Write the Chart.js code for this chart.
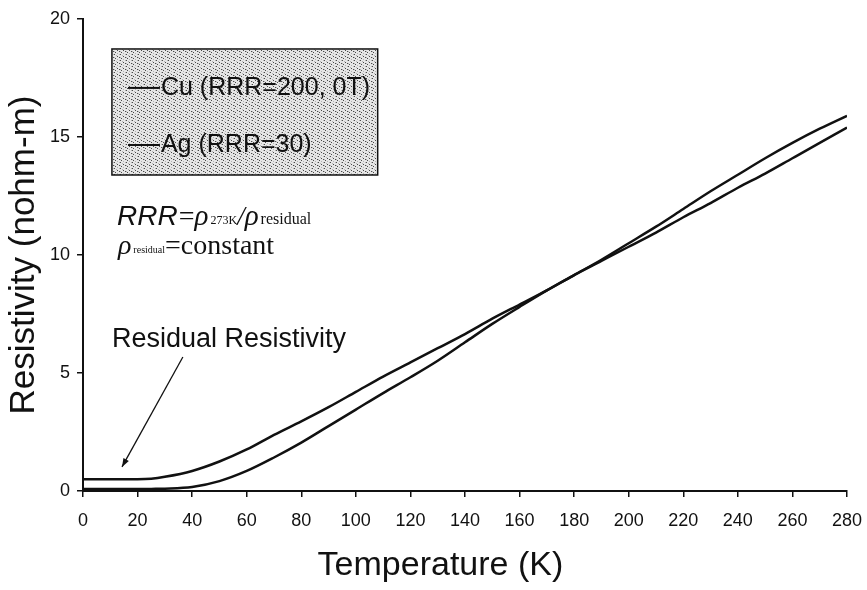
<!DOCTYPE html>
<html>
<head>
<meta charset="utf-8">
<script src="https://cdn.jsdelivr.net/npm/chart.js@4/dist/chart.umd.min.js"></script>
<style>
    html, body { margin: 0; padding: 0; background: #fff; }
    #wrap { width: 867px; height: 590px; }
</style>
</head>
<body>
<div id="wrap"><canvas id="rhoChart"></canvas></div>
<script>
// temperature (K)
const temps = [0, 10, 20, 25, 30, 40, 50, 60, 70, 80, 90, 100, 110, 120, 130, 140, 150,
    160, 170, 180, 190, 200, 210, 220, 230, 240, 250, 260, 270, 280];
// resistivity (nohm-m)
const cuRho = [0.08, 0.08, 0.08, 0.09, 0.1, 0.17, 0.42, 0.85, 1.42, 2.05, 2.75, 3.45, 4.15, 4.82, 5.52, 6.3, 7.08,
    7.8, 8.5, 9.15, 9.8, 10.5, 11.2, 11.95, 12.7, 13.4, 14.1, 14.75, 15.35, 15.9];
const agRho = [0.5, 0.5, 0.5, 0.52, 0.6, 0.85, 1.25, 1.76, 2.38, 2.95, 3.55, 4.2, 4.85, 5.45, 6.05, 6.65, 7.3,
    7.9, 8.5, 9.15, 9.75, 10.35, 10.95, 11.6, 12.2, 12.85, 13.45, 14.1, 14.75, 15.4];
const seriesNames = ['Cu (RRR=200, 0T)', 'Ag (RRR=30)'];
const xTicks = [0, 20, 40, 60, 80, 100, 120, 140, 160, 180, 200, 220, 240, 260, 280];
const yTicks = [0, 5, 10, 15, 20];
const xTitle = 'Temperature (K)';

const pts = (ys) => temps.map((t, i) => ({ x: t, y: ys[i] }));

// legend box + notes, placed in data units
const notes = {
    box: { x0: 10.6, x1: 108, y0: 18.73, y1: 13.39 },
    legendRows: [17.08, 14.66],
    legendLine: [16.5, 28.2],
    rrrLine: { x: 12.5, y: 11.7 },
    constLine: { x: 12.8, y: 10.42 },
    residual: { x: 10.6, y: 6.4 },
    arrow: { x0: 36.6, y0: 5.68, x1: 14.3, y1: 1.02 },
    xTitleAt: 131
};

const SANS = '"Liberation Sans", Arial, sans-serif';
const SERIF = '"Liberation Serif", "Times New Roman", serif';

// stippled grey fill like the scanned legend box
function stipple(c) {
    const t = document.createElement('canvas');
    t.width = 6; t.height = 6;
    const g = t.getContext('2d');
    g.fillStyle = '#e6e6e6';
    g.fillRect(0, 0, 6, 6);
    g.fillStyle = '#4a4a4a';
    [[0, 0], [3, 2], [1, 4], [5, 3]].forEach(([a, b]) => g.fillRect(a, b, 1, 1));
    g.fillStyle = '#b4b4b4';
    [[2, 1], [5, 0], [0, 3], [3, 5]].forEach(([a, b]) => g.fillRect(a, b, 1, 1));
    return c.createPattern(t, 'repeat');
}

const notesPlugin = {
    id: 'notes',
    afterDatasetsDraw(chart) {
        const c = chart.ctx;
        const xs = chart.scales.x, ys = chart.scales.y;
        const px = v => xs.getPixelForValue(v);
        const py = v => ys.getPixelForValue(v);
        c.save();

        // legend box
        const b = notes.box;
        c.fillStyle = stipple(c);
        c.fillRect(px(b.x0), py(b.y0), px(b.x1) - px(b.x0), py(b.y1) - py(b.y0));
        c.strokeStyle = '#111';
        c.lineWidth = 1.5;
        c.strokeRect(px(b.x0), py(b.y0), px(b.x1) - px(b.x0), py(b.y1) - py(b.y0));
        c.fillStyle = '#111';
        c.font = '25px ' + SANS;
        c.textBaseline = 'middle';
        notes.legendRows.forEach((ry, i) => {
            c.beginPath();
            c.lineWidth = 2;
            c.moveTo(px(notes.legendLine[0]), py(ry));
            c.lineTo(px(notes.legendLine[1]), py(ry));
            c.stroke();
            c.fillText(seriesNames[i], px(notes.legendLine[1]) + 1, py(ry));
        });

        // RRR = rho273K / rho residual
        c.textBaseline = 'alphabetic';
        let x = px(notes.rrrLine.x);
        const base = py(notes.rrrLine.y) + 10;
        c.font = 'italic 28px ' + SANS;
        c.fillText('RRR', x, base); x += c.measureText('RRR').width + 1;
        c.font = '28px ' + SERIF;
        c.fillText('=', x, base); x += c.measureText('=').width;
        c.font = 'italic 29px ' + SERIF;
        c.fillText('ρ', x, base); x += c.measureText('ρ').width + 2;
        c.font = '12px ' + SERIF;
        c.fillText('273K', x, base - 1); x += c.measureText('273K').width;
        c.font = 'italic 27px ' + SERIF;
        c.fillText('/', x, base); x += c.measureText('/').width;
        c.font = 'italic 29px ' + SERIF;
        c.fillText('ρ', x, base); x += c.measureText('ρ').width + 2;
        c.font = '16px ' + SERIF;
        c.fillText('residual', x, base - 1);

        // rho residual = constant
        x = px(notes.constLine.x);
        const base2 = py(notes.constLine.y) + 9;
        c.font = 'italic 28px ' + SERIF;
        c.fillText('ρ', x, base2); x += c.measureText('ρ').width + 2;
        c.font = '10px ' + SERIF;
        c.fillText('residual', x, base2 - 1); x += c.measureText('residual').width;
        c.font = '28px ' + SERIF;
        c.fillText('=constant', x, base2);

        // residual resistivity note + arrow
        c.font = '27px ' + SANS;
        c.textBaseline = 'middle';
        c.fillText('Residual Resistivity', px(notes.residual.x), py(notes.residual.y));
        const a = notes.arrow;
        const ax0 = px(a.x0), ay0 = py(a.y0), ax1 = px(a.x1), ay1 = py(a.y1);
        c.beginPath();
        c.lineWidth = 1.3;
        c.moveTo(ax0, ay0);
        c.lineTo(ax1, ay1);
        c.stroke();
        const ang = Math.atan2(ay1 - ay0, ax1 - ax0);
        c.beginPath();
        c.moveTo(ax1, ay1);
        c.lineTo(ax1 - 9 * Math.cos(ang - 0.35), ay1 - 9 * Math.sin(ang - 0.35));
        c.lineTo(ax1 - 9 * Math.cos(ang + 0.35), ay1 - 9 * Math.sin(ang + 0.35));
        c.closePath();
        c.fill();

        // x axis title (sits a little left of centre in the original)
        c.font = '34px ' + SANS;
        c.textAlign = 'center';
        c.fillText(xTitle, px(notes.xTitleAt), xs.bottom - 24);
        c.restore();
    }
};

const ctx = document.getElementById('rhoChart');
new Chart(ctx, {
    type: 'scatter',
    data: {
        datasets: [
            { label: seriesNames[0], data: pts(cuRho), showLine: true, borderColor: '#111', borderWidth: 2.5, pointRadius: 0, cubicInterpolationMode: 'monotone', fill: false },
            { label: seriesNames[1], data: pts(agRho), showLine: true, borderColor: '#111', borderWidth: 2.5, pointRadius: 0, cubicInterpolationMode: 'monotone', fill: false }
        ]
    },
    options: {
        animation: false,
        responsive: true,
        maintainAspectRatio: false,
        layout: { padding: { top: 19, right: 20, left: 0, bottom: 0 } },
        plugins: {
            legend: { display: false },
            tooltip: { enabled: false }
        },
        scales: {
            x: {
                type: 'linear',
                min: 0, max: 280,
                afterBuildTicks: (s) => { s.ticks = xTicks.map(v => ({ value: v })); },
                afterFit: (s) => { s.height = 99; s.paddingLeft = 0; s.paddingRight = 0; },
                grid: { drawOnChartArea: false, drawTicks: true, tickLength: 6, color: '#111', lineWidth: 1.5 },
                border: { display: true, color: '#111', width: 2 },
                ticks: { color: '#111', font: { size: 18, family: SANS }, padding: 13, maxRotation: 0 },
                title: { display: false, text: xTitle }
            },
            y: {
                min: 0, max: 20,
                afterBuildTicks: (s) => { s.ticks = yTicks.map(v => ({ value: v })); },
                afterFit: (s) => { s.width = 83; s.paddingTop = 0; s.paddingBottom = 0; },
                grid: { drawOnChartArea: false, drawTicks: true, tickLength: 6, color: '#111', lineWidth: 1.5 },
                border: { display: true, color: '#111', width: 2 },
                ticks: { color: '#111', font: { size: 18, family: SANS }, padding: 7 },
                title: { display: true, text: 'Resistivity (nohm-m)', color: '#111', font: { size: 35, family: SANS }, padding: { top: 3, bottom: 0 } }
            }
        }
    },
    plugins: [notesPlugin]
});
</script>
</body>
</html>
